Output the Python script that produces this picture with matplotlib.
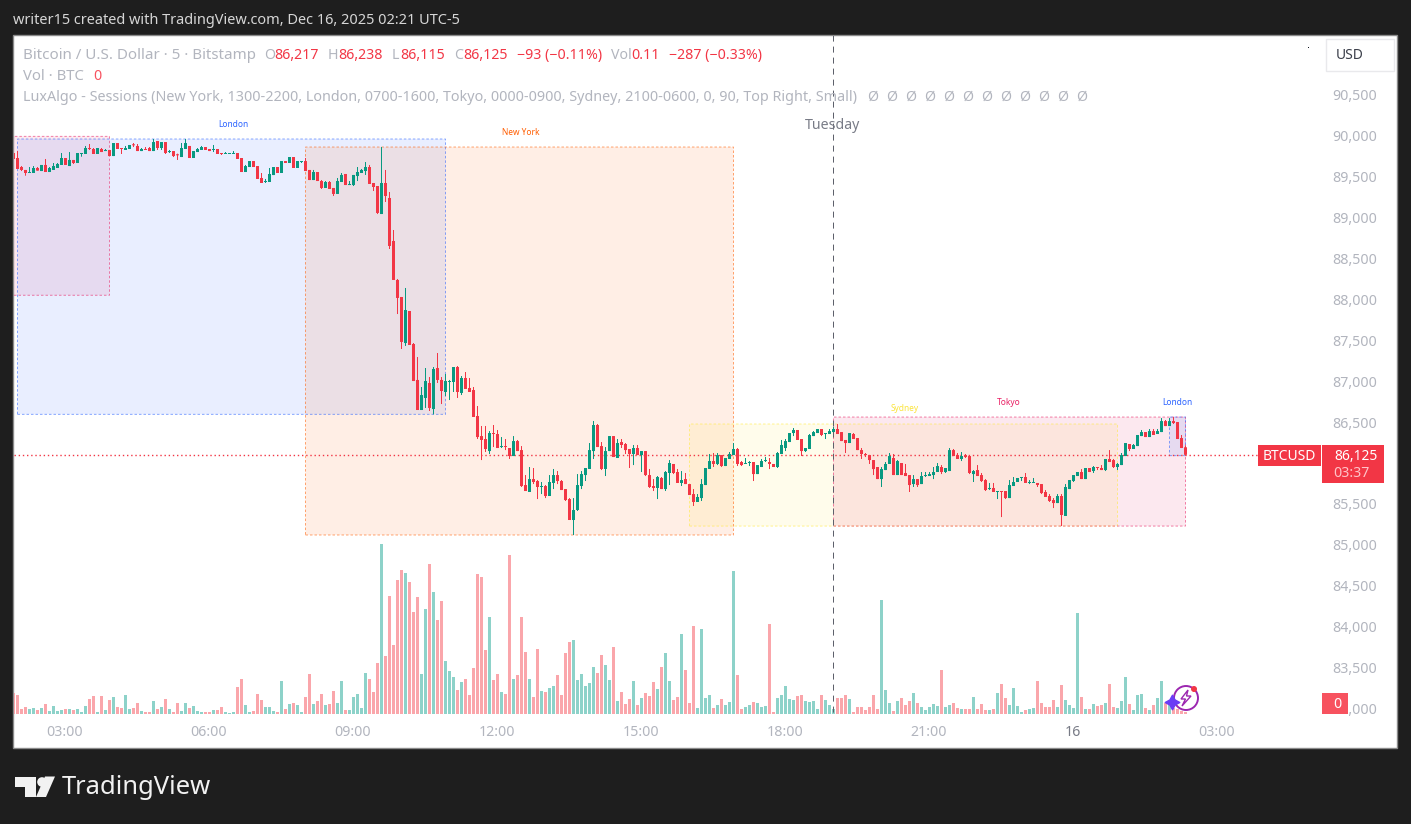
import numpy as np
import matplotlib
matplotlib.use("Agg")
import matplotlib.pyplot as plt
from matplotlib.patches import Rectangle, Circle, Polygon
from matplotlib.transforms import ScaledTranslation

ohlc_rows = [
(89810,89810,89737,89737),(89749,89834,89615,89615),(89639,89651,89590,89603),(89603,89603,89533,89566),
(89566,89639,89566,89578),(89566,89651,89566,89627),(89627,89639,89595,89595),(89590,89664,89590,89664),
(89664,89737,89578,89578),(89578,89639,89578,89627),(89603,89688,89603,89651),(89627,89688,89627,89676),
(89664,89810,89664,89749),(89749,89749,89664,89664),(89651,89822,89651,89725),(89725,89725,89676,89688),
(89688,89810,89688,89810),(89798,89810,89765,89810),(89798,89896,89798,89871),(89871,89920,89847,89859),
(89859,89871,89798,89798),(89798,89871,89798,89871),(89859,89871,89822,89822),(89834,89859,89834,89847),
(89847,89847,89773,89773),(89773,89932,89773,89932),(89932,89932,89859,89859),(89871,89871,89798,89859),
(89847,89896,89847,89871),(89859,89908,89859,89908),(89916,89932,89883,89904),(89896,89920,89834,89834),
(89834,89871,89834,89859),(89859,89883,89847,89847),(89871,89883,89834,89834),(89834,89981,89834,89944),
(89957,89957,89847,89871),(89871,89944,89847,89944),(89944,89944,89798,89810),(89822,89847,89810,89834),
(89834,89834,89761,89773),(89790,89802,89725,89782),(89761,89932,89761,89871),(89859,89981,89859,89932),
(89896,89896,89749,89749),(89749,89834,89749,89834),(89822,89871,89822,89859),(89847,89896,89847,89883),
(89883,89883,89847,89847),(89859,89859,89834,89834),(89847,89908,89822,89859),(89859,89859,89798,89798),
(89810,89810,89786,89798),(89798,89822,89798,89810),(89798,89810,89798,89810),(89798,89834,89798,89810),
(89810,89810,89737,89737),(89749,89749,89578,89578),(89578,89664,89578,89651),(89639,89712,89639,89712),
(89712,89712,89639,89639),(89651,89651,89493,89493),(89505,89566,89444,89444),(89456,89493,89444,89468),
(89456,89627,89456,89554),(89541,89639,89541,89639),(89639,89639,89566,89566),(89566,89712,89566,89712),
(89712,89712,89688,89688),(89688,89761,89688,89761),(89761,89761,89627,89627),(89627,89712,89627,89712),
(89700,89712,89688,89712),(89712,89749,89590,89590),(89603,89603,89480,89480),(89480,89603,89480,89578),
(89578,89578,89468,89468),(89468,89480,89371,89383),(89383,89468,89383,89456),(89456,89468,89371,89371),
(89383,89383,89285,89310),(89310,89505,89310,89468),(89456,89566,89456,89542),(89554,89554,89419,89419),
(89419,89468,89419,89432),(89419,89542,89407,89542),(89529,89639,89468,89578),(89566,89615,89566,89603),
(89590,89700,89542,89639),(89639,89664,89432,89432),(89444,89444,89346,89395),(89407,89407,89065,89078),
(89065,89883,89065,89444),(89444,89603,89212,89285),(89261,89334,88638,88675),(88736,88870,88260,88260),
(88260,88272,87844,88040),(88052,88052,87417,87503),(87490,88162,87454,87893),(87881,87881,87466,87466),
(87478,87490,87026,87026),(87039,87319,86672,86672),(86672,86953,86672,86855),(86819,87185,86697,87026),
(87002,87075,86660,86697),(86684,87197,86619,87173),(87185,87368,87002,87039),(87039,87075,86745,86904),
(86892,87112,86843,87026),(87014,87039,86794,87026),(87014,87197,86892,87197),(87197,87209,86819,86892),
(86880,87087,86855,87063),(87063,87136,86929,86929),(86941,87063,86892,86892),(86916,86953,86587,86587),
(86599,86721,86318,86342),(86354,86477,86061,86306),(86318,86477,86159,86196),(86171,86415,86135,86391),
(86391,86489,86220,86379),(86379,86428,86208,86208),(86220,86342,86208,86232),(86232,86318,86183,86220),
(86208,86208,86074,86110),(86110,86354,86110,86293),(86293,86306,86171,86171),(86183,86232,85732,85744),
(85756,85878,85683,85683),(85671,85976,85671,85829),(85829,85964,85768,85793),(85805,85817,85585,85732),
(85732,85793,85646,85744),(85744,85756,85597,85622),(85622,85878,85622,85793),(85781,85952,85707,85878),
(85878,85927,85768,85805),(85805,85817,85695,85695),(85707,85707,85561,85573),(85585,85597,85329,85329),
(85329,85597,85146,85451),(85451,85890,85439,85756),(85744,85927,85707,85890),(85878,85964,85805,85964),
(85952,86269,85952,86183),(86171,86538,86074,86489),(86489,86501,86220,86220),(86232,86281,85939,85952),
(85952,86220,85866,86171),(86171,86354,86171,86354),(86354,86354,86098,86098),(86086,86318,86086,86269),
(86281,86318,86208,86245),(86257,86269,86135,86183),(86196,86196,85964,86135),(86135,86245,86000,86208),
(86208,86245,86122,86122),(86122,86171,85915,86171),(86171,86171,85866,85878),(85878,85952,85720,85732),
(85744,85829,85683,85720),(85720,85866,85585,85854),(85842,85854,85707,85707),(85707,85927,85683,85915),
(85903,86061,85756,86025),(86013,86013,85890,85903),(85915,85952,85781,85781),(85781,85927,85744,85817),
(85829,85903,85768,85768),(85768,85768,85634,85634),(85646,85707,85500,85549),(85549,85646,85549,85610),
(85597,85829,85561,85768),(85756,85964,85756,85964),(85952,86135,85952,86049),(86049,86147,85976,86013),
(86013,86147,86000,86122),(86122,86122,85976,85988),(85988,86086,85988,86086),(86074,86159,86074,86135),
(86122,86269,86122,86196),(86196,86208,85988,86013),(86037,86049,85988,86000),(86013,86086,86013,86025),
(86025,86049,85988,86037),(86037,86037,85805,85890),(85890,86000,85890,86000),(85976,86074,85976,86049),
(86049,86098,86037,86061),(86037,86086,85951,86013),(86013,86013,85976,85976),(85976,86159,85964,86147),
(86135,86306,86135,86245),(86208,86318,86171,86293),(86281,86391,86281,86391),(86391,86452,86354,86428),
(86428,86428,86306,86306),(86318,86318,86110,86171),(86171,86208,86159,86208),(86196,86379,86196,86367),
(86354,86415,86354,86403),(86391,86440,86391,86440),(86440,86440,86354,86367),(86379,86391,86318,86391),
(86379,86440,86379,86415),(86403,86464,86403,86440),(86440,86501,86379,86379),(86403,86403,86293,86293),
(86306,86306,86147,86269),(86269,86391,86269,86391),(86379,86391,86318,86318),(86330,86330,86183,86183),
(86183,86208,86074,86135),(86135,86147,86098,86122),(86122,86122,86013,86061),(86061,86061,85878,85951),
(85976,85976,85829,85829),(85829,85976,85732,85951),(85939,86037,85939,86013),(86013,86147,86013,86110),
(86086,86135,85878,85878),(85878,86061,85878,86049),(86025,86025,85878,85878),(85903,86013,85866,85866),
(85878,85878,85671,85756),(85768,85878,85732,85829),(85829,85829,85732,85756),(85768,85915,85768,85866),
(85866,85915,85854,85878),(85866,85915,85866,85890),(85878,85976,85829,85915),(85915,86025,85915,85988),
(85976,86000,85890,85915),(85915,85964,85903,85964),(85927,86208,85927,86183),(86183,86196,86110,86110),
(86122,86147,86074,86074),(86074,86159,86049,86110),(86122,86135,86086,86098),(86110,86110,85890,85903),
(85890,85939,85793,85927),(85939,86000,85866,85866),(85878,85903,85793,85805),(85817,85829,85683,85695),
(85707,85781,85695,85720),(85720,85781,85671,85671),(85671,85683,85585,85683),(85683,85683,85365,85671),
(85683,85683,85585,85597),(85597,85817,85597,85756),(85744,85854,85744,85793),(85793,85842,85793,85842),
(85842,85854,85805,85854),(85854,85903,85781,85781),(85781,85817,85768,85793),(85781,85842,85781,85793),
(85781,85781,85732,85756),(85768,85768,85646,85658),(85671,85695,85610,85610),(85622,85646,85549,85561),
(85573,85597,85475,85536),(85536,85646,85536,85622),(85622,85646,85255,85390),(85378,85768,85378,85732),
(85707,85817,85707,85817),(85805,85878,85793,85878),(85866,85915,85866,85915),(85915,85951,85829,85829),
(85829,85964,85829,85964),(85964,85964,85915,85915),(85927,85988,85903,85976),(85976,85976,85939,85964),
(85964,86000,85939,85939),(85939,86074,85927,86074),(86074,86183,86037,86037),(86061,86074,85964,85976),
(85976,86025,85939,86013),(86000,86147,86000,86122),(86110,86269,86110,86269),(86257,86257,86171,86196),
(86196,86257,86196,86245),(86232,86367,86232,86367),(86354,86428,86354,86403),(86403,86403,86342,86342),
(86342,86440,86342,86415),(86415,86440,86367,86367),(86379,86440,86379,86415),(86403,86574,86403,86537),
(86537,86550,86476,86476),(86476,86574,86476,86537),(86537,86586,86501,86513),(86525,86525,86318,86318),
(86330,86367,86208,86208),(86217,86238,86115,86125),
]
opens = [r[0] for r in ohlc_rows]
highs = [r[1] for r in ohlc_rows]
lows = [r[2] for r in ohlc_rows]
closes = [r[3] for r in ohlc_rows]

volumes = [
63,57,15,21,15,18,12,18,30,9,24,9,12,15,15,12,15,6,24,45,54,6,54,12,42,51,21,18,57,15,18,33,9,6,6,39,15,21,45,15,
6,33,9,33,18,24,9,6,6,6,12,12,21,6,3,6,81,105,27,6,9,60,42,21,21,9,6,99,15,30,33,27,6,51,120,30,39,60,27,30,
69,33,99,12,12,51,60,18,123,105,66,153,510,174,354,207,402,432,423,396,306,351,120,315,450,366,282,339,159,129,
111,72,96,105,57,138,420,411,192,291,102,120,66,60,477,105,117,291,186,105,51,195,69,66,78,84,117,57,183,216,
222,102,120,84,93,141,123,177,147,102,201,39,66,30,45,99,27,48,63,54,96,75,141,183,99,42,51,240,132,33,
264,18,255,48,57,18,27,45,27,36,429,117,15,21,27,36,33,21,24,270,6,48,57,84,45,42,54,57,39,36,
39,15,57,42,27,15,48,48,57,45,6,21,21,12,21,57,15,342,72,33,9,39,48,27,39,63,33,21,12,21,
30,24,132,21,27,33,18,15,15,15,51,15,30,12,12,15,63,90,48,27,78,24,6,12,15,18,99,33,21,21,
42,21,87,42,27,18,303,51,15,15,30,24,27,33,90,21,18,39,111,30,12,57,60,18,12,27,48,99,33,27,
18,15,9,6,
]

price_ticks = [90500,90000,89500,89000,88500,88000,87500,87000,86500,86000,85500,85000,84500,84000,83500,83000]
time_tick_pos = [13,49,85,121,157,193,229,265,301]
time_tick_labels = ["03:00","06:00","09:00","12:00","15:00","18:00","21:00","16","03:00"]

session_names = ["Tokyo","London","New York","Sydney","Tokyo","London"]
session_start = [-1,1,73,169,205,289]
session_end = [24,108,180,276,293,293]
session_high = [90013,89981,89883,86501,86586,86586]
session_low = [88073,86619,85146,85255,85255,86115]
session_colors = ["#e91e63","#2962ff","#ff5d00","#ffeb3b","#e91e63","#2962ff"]
session_label_pos = [None,(233,124),(521,132),(905,408),(1009,402),(1177,402)]
session_label_colors = [None,"#2962ff","#ff5d00","#fbe43b","#e91e63","#2962ff"]

UP, DOWN = "#089981", "#f23645"
W, H = 1411, 824
FONT = "Noto Sans"
plt.rcParams["font.family"] = [FONT, "DejaVu Sans"]

fig = plt.figure(figsize=(W/100, H/100), dpi=100, facecolor="#1e1e1e")

def px_axes(x0, y0, x1, y1, **kw):
    return fig.add_axes([x0/W, 1-y1/H, (x1-x0)/W, (y1-y0)/H], **kw)

bg = fig.add_axes([0, 0, 1, 1], zorder=0)
bg.set_xlim(0, W); bg.set_ylim(H, 0); bg.axis("off")
bg.add_patch(Rectangle((13, 35), 1384, 713, fc="white", ec="#8a8a8a", lw=1))

o, h, l, c = map(np.array, (opens, highs, lows, closes))
idx = np.arange(len(c))
up = c >= o
cols = np.where(up, UP, DOWN)

# x = 13.5 + 4i px, y: 90500 at 96.5 px, 12.21 per px
axL, axR, axT, axB = 14, 1322, 36, 716
xlim = ((axL-13.5)/4, (axR-13.5)/4)

vol = px_axes(axL, axT, axR, axB, zorder=1)
vol.patch.set_alpha(0)
vol.set_xlim(*xlim)
vol.set_ylim(-6, 2034)
vol.axis("off")
vbars = vol.bar(idx, volumes, width=0.75, color=np.where(up, "#8dd2c9", "#faa6ab"))
for p in vbars:
    p.set_snap(False)

ax = px_axes(axL, axT, axR, axB, zorder=2)
ax.patch.set_alpha(0)
ax.set_xlim(*xlim)
ax.set_ylim(90500-(axB-96.5)*12.21, 90500+(96.5-axT)*12.21)
for s in ax.spines.values():
    s.set_visible(False)

for st, en, hi, lo, col in zip(session_start, session_end, session_high, session_low, session_colors):
    fill = Rectangle((st, lo), en-st, hi-lo, fc=col, alpha=0.10, lw=0, zorder=1)
    edge = Rectangle((st, lo), en-st, hi-lo, fc="none", ec=col, alpha=0.55, lw=0.72,
                     ls=(0, (2.5, 2)), zorder=1.5)
    fill.set_snap(False); edge.set_snap(False)
    ax.add_patch(fill); ax.add_patch(edge)

wicks = ax.vlines(idx, l, h, colors=cols, lw=0.72, zorder=3)
wicks.set_snap(False)
bodies = ax.bar(idx, np.maximum(np.abs(c-o), 12.21), bottom=np.minimum(o, c), width=0.75, color=cols, zorder=4)
for p in bodies:
    p.set_snap(False)

sep = ax.axvline(205, ymin=0.005, color="#5d606b", lw=0.72, ls=(0, (6, 5)), zorder=2.5)
sep.set_snap(False)
ax.axhline(closes[-1], color=DOWN, lw=1, ls=(0, (1, 2)), zorder=2.5)

ax.yaxis.tick_right()
ax.set_yticks(price_ticks)
ax.set_yticklabels([f"{p:,}" for p in price_ticks], fontsize=10.2, color="#b2b5be")
ax.tick_params(axis="y", length=0, pad=7.3)
ax.set_xticks(time_tick_pos)
ax.set_xticklabels(time_tick_labels, fontsize=10.2, color="#b2b5be")
ax.tick_params(axis="x", length=0, pad=6.2)
xshift = ScaledTranslation(-0.6/72, 0, fig.dpi_scale_trans)
for t in ax.get_xticklabels():
    t.set_transform(t.get_transform() + xshift)
    if t.get_text() == "16":
        t.set_fontweight("bold"); t.set_color("#787b86")
shift = ScaledTranslation(0, 1.5/72, fig.dpi_scale_trans)
for t in ax.get_yticklabels():
    t.set_transform(t.get_transform() + shift)

ov = fig.add_axes([0, 0, 1, 1], zorder=5)
ov.patch.set_alpha(0)
ov.set_xlim(0, W); ov.set_ylim(H, 0); ov.axis("off")

def T(x, y, s, color="#b2b5be", size=10.2, ha="left", **kw):
    ov.text(x, y, s, color=color, fontsize=size, ha=ha, va="center", **kw)

T(13, 20, "writer15 created with TradingView.com, Dec 16, 2025 02:21 UTC-5", color="#d6d6d6", size=10.48)

T(23, 55, "Bitcoin / U.S. Dollar · 5 · Bitstamp", size=10.9)
for x, lab, val, vx in [(264, "O", "86,217", 274), (328, "H", "86,238", 338),
                        (392, "L", "86,115", 400), (454, "C", "86,125", 463)]:
    T(x, 55, lab); T(vx, 55, val, color=DOWN)
T(517, 55, "−93 (−0.11%)", color=DOWN)
T(611, 55, "Vol"); T(631, 55, "0.11", color=DOWN)
T(669, 55, "−287 (−0.33%)", color=DOWN)
T(23, 76, "Vol · BTC", size=10.7); T(93, 76, "0", color="#f7525f")
T(23, 97, "LuxAlgo - Sessions (New York, 1300-2200, London, 0700-1600, Tokyo, 0000-0900, Sydney, 2100-0600, 0, 90, Top Right, Small)", size=10.34)
for k in range(12):
    T(873+19*k, 97, "Ø", ha="center")
T(833, 125, "Tuesday", color="#787b86", size=10.2, ha="center")

for name, pos, col in zip(session_names, session_label_pos, session_label_colors):
    if pos:
        T(pos[0], pos[1], name, color=col, size=6.0, ha="center")

# price tags
ov.add_patch(Rectangle((1258, 445), 63, 21, fc=DOWN, ec="none"))
ov.add_patch(Rectangle((1322, 445), 62, 38, fc=DOWN, ec="none"))
T(1289, 456, "BTCUSD", color="white", size=10.0, ha="center", fontweight="bold")
T(1356, 456, f"{closes[-1]:,}", color="white", size=10.0, ha="center", fontweight="bold")
T(1351, 473.5, "03:37", color="#ffc4c9", size=10.2, ha="center")
ov.add_patch(Rectangle((1322, 693), 26, 21, fc="#f7525f", ec="none"))
T(1337, 704, "0", color="white", size=10.2, ha="center")

# USD button
ov.add_patch(Rectangle((1326, 39), 68, 32, fc="white", ec="#e9e9ec", lw=1))
T(1350, 55, "USD", color="#3b3f4a", size=10, ha="center")
ov.add_patch(Rectangle((1307.5, 46.5), 1.5, 1.5, fc="#131722", ec="none"))

# sparkle
ov.add_patch(Circle((1186, 698), 12, fc="white", ec="#9c27b0", lw=1.4))
ov.add_patch(Polygon([(1188,690),(1181,699),(1185.5,699),(1182,706),(1191,696),(1186.5,696)],
                     fc="none", ec="#9c27b0", lw=1))
ov.scatter([1172], [702], marker=(4, 1, 0), s=110, color="#6a3df5", zorder=6)
ov.add_patch(Circle((1194, 689), 3, fc=DOWN, ec="none", zorder=6))

# logo
ov.add_patch(Polygon([(15,776.5),(36,776.5),(36,797),(25,797),(25,787),(15,787)], fc="#f2f2f2", ec="none"))
ov.add_patch(Circle((42,782), 4.8, fc="#f2f2f2", ec="none"))
ov.add_patch(Polygon([(45,776.5),(55,776.5),(46,797),(36,797)], fc="#f2f2f2", ec="none"))
T(62, 787, "TradingView", color="#f2f2f2", size=18.4, fontweight="bold")

fig.savefig("out.png", dpi=100, facecolor=fig.get_facecolor())
